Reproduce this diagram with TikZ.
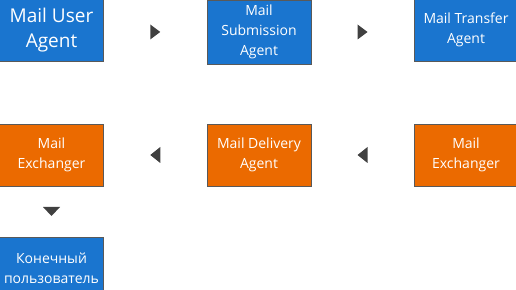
\documentclass[tikz,border=0pt]{standalone}
\usepackage{fontspec}
\setmainfont{Open Sans}
\usetikzlibrary{calc}
\definecolor{boxblue}{HTML}{1A75CF}
\definecolor{boxorange}{HTML}{EB6A00}
\definecolor{boxline}{HTML}{595959}
\definecolor{tipgray}{HTML}{404040}
\begin{document}
\begin{tikzpicture}[x=1pt,y=1pt,
  box/.style={draw=boxline,line width=0.8pt,minimum width=104pt,minimum height=62pt,
    inner sep=0pt,align=center,text=white,font=\fontsize{14}{20}\selectfont},
  bluebox/.style={box,fill=boxblue},
  orangebox/.style={box,fill=boxorange},
  tip/.style={fill=tipgray,draw=none}]
\useasboundingbox (0,0) rectangle (516,289);
\begin{scope}
\clip (0,0) rectangle (516,289);
\node[bluebox,font=\fontsize{19}{25}\selectfont] (mua) at (51.5,259) {Mail User\\Agent};
\node[bluebox,minimum height=64pt] (msa) at (259,257) {Mail\\Submission\\Agent};
\node[bluebox] (mta) at (466,259) {Mail Transfer\\Agent};
\node[orangebox] (mx2) at (466,134) {Mail\\Exchanger};
\node[orangebox] (mda) at (259,134) {Mail Delivery\\Agent};
\node[orangebox] (mx1) at (51.5,134) {Mail\\Exchanger};
\node[bluebox] (user) at (51.5,21) {Конечный\\пользователь};
\end{scope}
\coordinate (a1) at ($(mua.east)!0.5!(msa.west)$);
\coordinate (a2) at ($(msa.east)!0.5!(mta.west)$);
\coordinate (a3) at ($(mda.east)!0.5!(mx2.west)$);
\coordinate (a4) at ($(mx1.east)!0.5!(mda.west)$);
\coordinate (a5) at ($(mx1.south)!0.5!(user.north)$);
\fill[tip] ([yshift=-1pt]a1) +(-5,7.5) -- +(5,0) -- +(-5,-7.5) -- cycle;
\fill[tip] ([yshift=-1pt]a2) +(-5,7.5) -- +(5,0) -- +(-5,-7.5) -- cycle;
\fill[tip] (a3) +(5,8) -- +(-5,0) -- +(5,-8) -- cycle;
\fill[tip] (a4) +(5,8) -- +(-5,0) -- +(5,-8) -- cycle;
\fill[tip] (a5) +(-8.5,4.5) -- +(8.5,4.5) -- +(0,-4.5) -- cycle;
\end{tikzpicture}
\end{document}
